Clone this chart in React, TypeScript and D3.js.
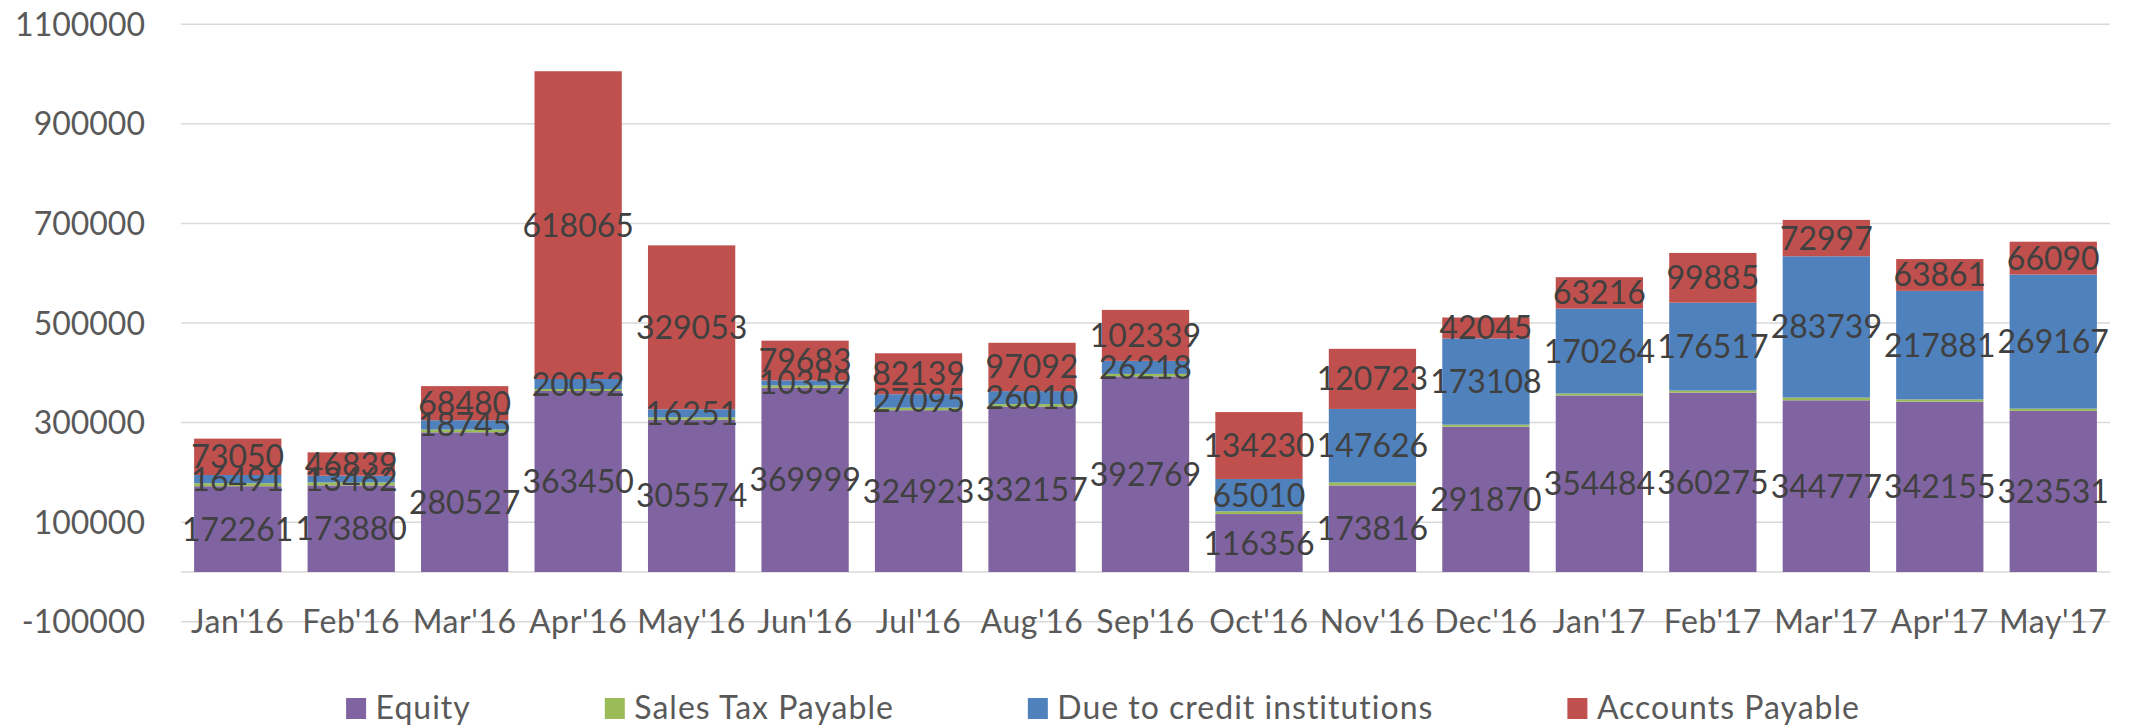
import React, { useEffect, useRef } from "react";
import * as d3 from "d3";

const months = [
  "Jan'16", "Feb'16", "Mar'16", "Apr'16", "May'16", "Jun'16", "Jul'16", "Aug'16", "Sep'16",
  "Oct'16", "Nov'16", "Dec'16", "Jan'17", "Feb'17", "Mar'17", "Apr'17", "May'17",
];
const equity = [
  172261, 173880, 280527, 363450, 305574, 369999, 324923, 332157, 392769,
  116356, 173816, 291870, 354484, 360275, 344777, 342155, 323531,
];
// small green band, no labels in the source
const salesTax = [
  6000, 6000, 5500, 4000, 5000, 4500, 5000, 5000, 5000,
  5500, 6000, 4000, 4000, 4000, 5500, 4500, 4500,
];
const dueCredit = [
  16491, 13462, 18745, 20052, 16251, 10359, 27095, 26010, 26218,
  65010, 147626, 173108, 170264, 176517, 283739, 217881, 269167,
];
const accountsPayable = [
  73050, 46839, 68480, 618065, 329053, 79683, 82139, 97092, 102339,
  134230, 120723, 42045, 63216, 99885, 72997, 63861, 66090,
];
const yTicks = [-100000, 100000, 300000, 500000, 700000, 900000, 1100000];

const seriesKeys = ["equity", "salesTax", "dueCredit", "accountsPayable"];
const seriesNames = ["Equity", "Sales Tax Payable", "Due to credit institutions", "Accounts Payable"];
const seriesColors = ["#8064a2", "#9bbb59", "#4f81bd", "#c0504d"];
const labelled = [true, false, true, true];

type Row = { month: string; [k: string]: number | string };

export default function App() {
  const ref = useRef<SVGSVGElement | null>(null);

  useEffect(() => {
    document.body.style.margin = "0";
    const width = 2131;
    const height = 726;
    const font = "Lato, 'Open Sans', sans-serif";

    const rows: Row[] = months.map((m, i) => ({
      month: m,
      equity: equity[i],
      salesTax: salesTax[i],
      dueCredit: dueCredit[i],
      accountsPayable: accountsPayable[i],
    }));

    const x = d3
      .scaleBand<string>()
      .domain(months)
      .range([181, 2110])
      .paddingInner(0.2308)
      .paddingOuter(0.1154);
    const y = d3.scaleLinear().domain([-100000, 1100000]).range([621.8, 24.2]);

    const svg = d3.select(ref.current).attr("width", width).attr("height", height);
    svg.selectAll("*").remove();

    // gridlines + the zero axis line
    svg
      .append("g")
      .selectAll("line")
      .data([...yTicks, 0])
      .join("line")
      .attr("x1", 181)
      .attr("x2", 2110)
      .attr("y1", (d) => y(d))
      .attr("y2", (d) => y(d))
      .attr("stroke", "#d9d9d9")
      .attr("stroke-width", 1.5);

    svg
      .append("g")
      .selectAll("text")
      .data(yTicks)
      .join("text")
      .attr("x", 145)
      .attr("y", (d) => y(d))
      .attr("dy", "0.36em")
      .attr("text-anchor", "end")
      .attr("font-family", font)
      .attr("font-size", 32)
      .attr("fill", "#595959")
      .text((d) => String(d));

    // x labels sit low, on the -100000 line
    svg
      .append("g")
      .selectAll("text")
      .data(months)
      .join("text")
      .attr("x", (d) => (x(d) as number) + x.bandwidth() / 2)
      .attr("y", y(-100000))
      .attr("dy", "0.36em")
      .attr("text-anchor", "middle")
      .attr("font-family", font)
      .attr("font-size", 32)
      .attr("letter-spacing", 0.6)
      .attr("fill", "#595959")
      .text((d) => d);

    const stacked = d3.stack<Row>().keys(seriesKeys)(rows);

    const layers = svg
      .append("g")
      .selectAll("g")
      .data(stacked)
      .join("g")
      .attr("fill", (_, i) => seriesColors[i]);

    layers
      .selectAll("rect")
      .data((s) => s)
      .join("rect")
      .attr("x", (d) => x(d.data.month) as number)
      .attr("width", x.bandwidth())
      .attr("y", (d) => y(d[1]))
      .attr("height", (d) => y(d[0]) - y(d[1]));

    const labelGroups = svg
      .append("g")
      .selectAll("g")
      .data(stacked.filter((_, i) => labelled[i]))
      .join("g");

    labelGroups
      .selectAll("text")
      .data((s) => s.map((d) => ({ d, key: s.key })))
      .join("text")
      .attr("x", (e) => (x(e.d.data.month) as number) + x.bandwidth() / 2)
      .attr("y", (e) => (y(e.d[0]) + y(e.d[1])) / 2)
      .attr("dy", "0.36em")
      .attr("text-anchor", "middle")
      .attr("font-family", font)
      .attr("font-size", 32)
      .attr("fill", "#404040")
      .text((e) => String(e.d.data[e.key]));

    // legend, measured then centred
    const legend = svg.append("g");
    const items = legend.selectAll("g").data(seriesNames).join("g");
    items
      .append("rect")
      .attr("width", 20)
      .attr("height", 21)
      .attr("y", 698)
      .attr("fill", (_, i) => seriesColors[i]);
    const texts = items
      .append("text")
      .attr("x", 29.5)
      .attr("y", 719)
      .attr("font-family", font)
      .attr("font-size", 32)
      .attr("letter-spacing", 1)
      .attr("fill", "#595959")
      .text((d) => d);

    const widths: number[] = [];
    texts.each(function () {
      widths.push((this as SVGTextElement).getComputedTextLength());
    });
    const gap = 134;
    const offsets: number[] = [];
    let cur = 0;
    widths.forEach((w) => {
      offsets.push(cur);
      cur += 29.5 + w + gap;
    });
    const total = cur - gap;
    const start = 1103 - total / 2;
    items.attr("transform", (_, i) => `translate(${start + offsets[i]},0)`);
  }, []);

  return <svg ref={ref} style={{ display: "block" }}></svg>;
}
